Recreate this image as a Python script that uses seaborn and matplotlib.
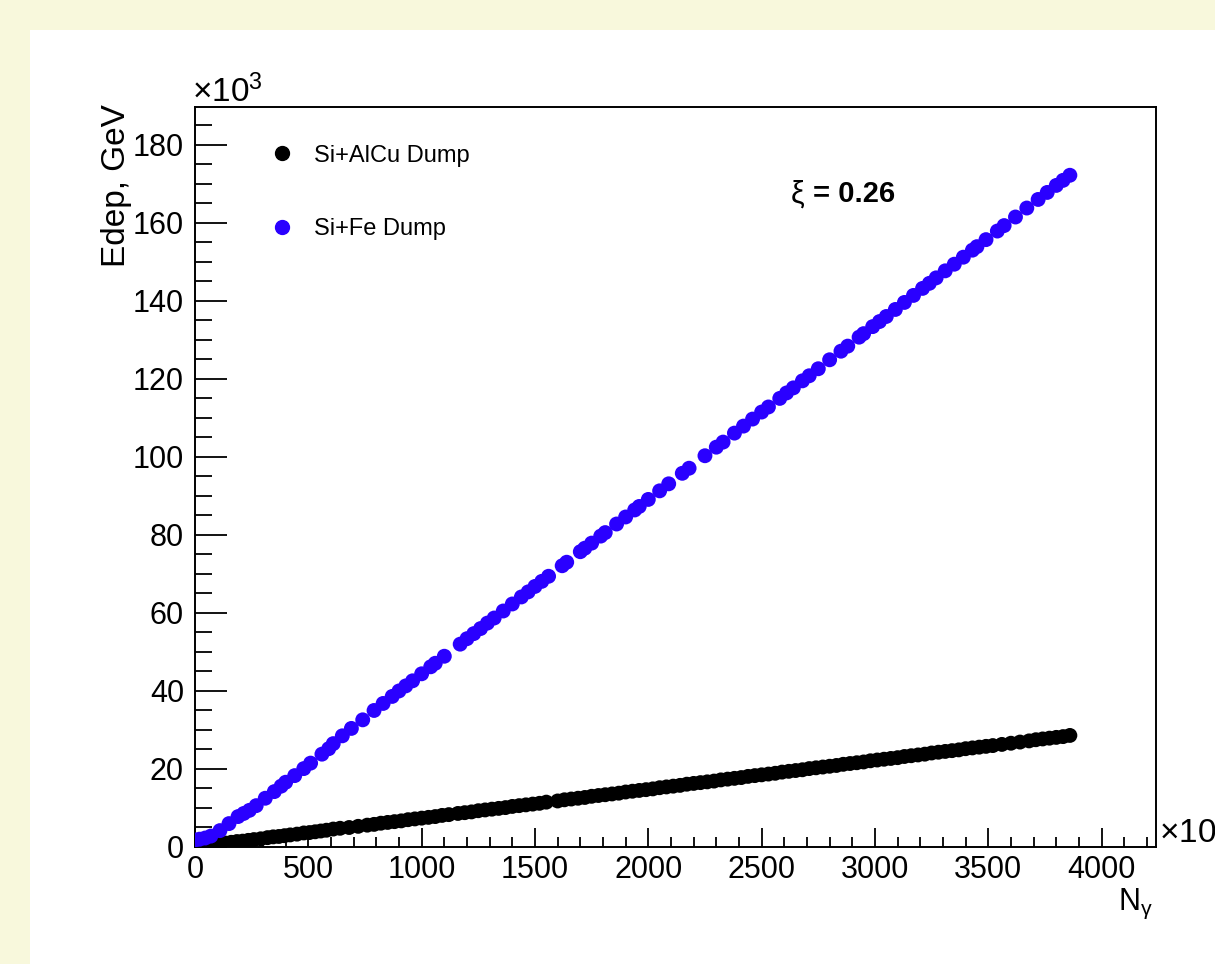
import numpy as np
import pandas as pd
import matplotlib.pyplot as plt
import seaborn as sns
from matplotlib.lines import Line2D
from matplotlib.patches import Rectangle
from matplotlib.ticker import MultipleLocator

# ---------- DATA (N_gamma, Edep in 10^3 GeV) ----------
alcu_n = [0, 15, 30, 50, 70, 90, 110, 135, 160, 185, 210, 235, 260, 290, 320, 345, 370, 395,
          420, 450, 480, 505, 530, 555, 580, 610, 640, 680, 720, 760, 790, 820, 850, 880, 910,
          940, 970, 1000, 1030, 1060, 1090, 1120, 1160, 1190, 1220, 1250, 1280, 1310, 1340,
          1370, 1400, 1430, 1460, 1490, 1520, 1550, 1600, 1630, 1660, 1690, 1720, 1750, 1780,
          1810, 1840, 1870, 1900, 1930, 1960, 1990, 2020, 2050, 2080, 2110, 2140, 2170, 2200,
          2230, 2260, 2290, 2320, 2350, 2380, 2410, 2440, 2470, 2500, 2530, 2560, 2590, 2620,
          2650, 2680, 2710, 2740, 2770, 2800, 2830, 2860, 2890, 2920, 2950, 2980, 3010, 3040,
          3070, 3100, 3130, 3160, 3190, 3220, 3250, 3280, 3310, 3340, 3370, 3400, 3430, 3460,
          3490, 3520, 3560, 3600, 3640, 3680, 3710, 3740, 3770, 3800, 3830, 3860]
alcu_e = [0.0, 0.1, 0.3, 0.4, 0.5, 0.7, 0.8, 1.0, 1.2, 1.4, 1.5, 1.7, 1.9, 2.1, 2.4, 2.6, 2.7, 2.9,
          3.1, 3.3, 3.6, 3.7, 3.9, 4.1, 4.3, 4.6, 4.8, 5.0, 5.3, 5.6, 5.8, 6.1, 6.3, 6.5, 6.7,
          7.0, 7.2, 7.4, 7.6, 7.8, 8.1, 8.3, 8.6, 8.8, 9.0, 9.3, 9.5, 9.7, 9.9,
          10.1, 10.4, 10.6, 10.8, 11.0, 11.2, 11.5, 11.8, 12.1, 12.3, 12.5, 12.7, 13.0, 13.2,
          13.4, 13.6, 13.8, 14.1, 14.3, 14.5, 14.7, 14.9, 15.2, 15.4, 15.6, 15.8, 16.1, 16.3,
          16.5, 16.7, 16.9, 17.2, 17.4, 17.6, 17.8, 18.1, 18.3, 18.5, 18.7, 18.9, 19.2, 19.4,
          19.6, 19.8, 20.1, 20.3, 20.5, 20.7, 20.9, 21.2, 21.4, 21.6, 21.8, 22.1, 22.3, 22.5,
          22.7, 22.9, 23.2, 23.4, 23.6, 23.8, 24.1, 24.3, 24.5, 24.7, 24.9, 25.2, 25.4, 25.6,
          25.8, 26.0, 26.3, 26.6, 26.9, 27.2, 27.5, 27.7, 27.9, 28.1, 28.3, 28.6]

fe_n = [0, 20, 45, 70, 110, 150, 190, 215, 240, 270, 310, 350, 380, 400, 440, 480, 510, 560,
        590, 610, 650, 690, 740, 790, 830, 870, 900, 930, 960, 1000, 1040, 1060, 1100, 1170,
        1200, 1230, 1260, 1290, 1320, 1360, 1400, 1440, 1470, 1500, 1530, 1560, 1620, 1640,
        1700, 1720, 1750, 1790, 1810, 1860, 1900, 1940, 1960, 2000, 2050, 2090, 2150, 2180,
        2250, 2300, 2330, 2380, 2420, 2460, 2500, 2530, 2580, 2610, 2640, 2680, 2710, 2750,
        2800, 2850, 2880, 2930, 2950, 2990, 3020, 3050, 3090, 3130, 3170, 3210, 3240, 3270,
        3310, 3350, 3390, 3430, 3450, 3490, 3540, 3570, 3620, 3670, 3720, 3760, 3800, 3830, 3860]
fe_e = [1.8, 2.0, 2.3, 2.8, 4.2, 6.0, 7.8, 8.6, 9.4, 10.6, 12.5, 14.2, 15.6, 16.6, 18.3, 20.1,
        21.5, 23.8, 25.2, 26.5, 28.5, 30.4, 32.6, 35.0, 36.8, 38.6, 40.0, 41.3, 42.6, 44.4, 46.2,
        47.1, 48.9, 52.0, 53.4, 54.7, 56.0, 57.4, 58.7, 60.5, 62.3, 64.1, 65.4, 66.8, 68.1, 69.4,
        72.1, 73.0, 75.7, 76.6, 77.9, 79.7, 80.6, 82.8, 84.6, 86.4, 87.3, 89.1, 91.3, 93.1, 95.8,
        97.1, 100.3, 102.5, 103.8, 106.1, 107.9, 109.7, 111.5, 112.8, 115.0, 116.4, 117.7, 119.5,
        120.8, 122.6, 124.9, 127.1, 128.4, 130.7, 131.6, 133.4, 134.7, 136.0, 137.8, 139.6, 141.4,
        143.2, 144.5, 145.9, 147.7, 149.4, 151.2, 153.0, 153.9, 155.7, 157.9, 159.3, 161.5, 163.8,
        166.0, 167.8, 169.6, 170.9, 172.2]

labels = ["Si+AlCu Dump", "Si+Fe Dump"]
colors = ["#000000", "#2a00ff"]

df = pd.concat([
    pd.DataFrame({"n": alcu_n, "edep": alcu_e, "setup": labels[0]}),
    pd.DataFrame({"n": fe_n, "edep": fe_e, "setup": labels[1]}),
])

# ---------- PLOT ----------
sns.set_style("ticks")
plt.rcParams["font.family"] = ["Liberation Sans", "DejaVu Sans"]
plt.rcParams["text.color"] = "black"
plt.rcParams["mathtext.fontset"] = "custom"
plt.rcParams["mathtext.rm"] = "Liberation Sans"
plt.rcParams["mathtext.it"] = "Liberation Sans:italic"
plt.rcParams["mathtext.default"] = "regular"

W, H = 1215, 964
fig = plt.figure(figsize=(W / 100, H / 100), dpi=100)
fig.patch.set_facecolor("#f8f8dc")
fig.patches.append(Rectangle((30 / W, 0), 1 - 30 / W, 1 - 30 / H, transform=fig.transFigure,
                             facecolor="white", edgecolor="none", zorder=-5))

ax = fig.add_axes([195 / W, 1 - 847 / H, (1156 - 195) / W, (847 - 107) / H])
ax.set_zorder(2)
ax.set_facecolor("white")

sns.scatterplot(data=df, x="n", y="edep", hue="setup", palette=dict(zip(labels, colors)),
                s=115, linewidth=0, legend=False, ax=ax, zorder=3)

ax.set_xlim(0, 4240)
ax.set_ylim(0, 189.7)
ax.xaxis.set_major_locator(MultipleLocator(500))
ax.xaxis.set_minor_locator(MultipleLocator(100))
ax.yaxis.set_major_locator(MultipleLocator(20))
ax.yaxis.set_minor_locator(MultipleLocator(5))
ax.tick_params(axis="both", which="both", direction="in", top=False, right=False,
               labelsize=22, width=1.3, colors="black")
ax.tick_params(axis="x", which="major", length=14, pad=6)
ax.tick_params(axis="x", which="minor", length=7)
ax.tick_params(axis="y", which="major", length=23, pad=8)
ax.tick_params(axis="y", which="minor", length=12)
for sp in ax.spines.values():
    sp.set_linewidth(1.4)
    sp.set_color("black")

ax.set_xlabel("")
ax.set_ylabel("")
fig.text(1153 / W, 1 - 910 / H, r"N$_{\gamma}$", ha="right", va="baseline", fontsize=22)
fig.text(117 / W, 1 - 104 / H, "Edep, GeV", rotation=90, ha="center", va="top", fontsize=24)
fig.text(192 / W, 1 - 92 / H, r"$\times$10$^{3}$", ha="left", va="center", fontsize=24)
fig.text(1159 / W, 1 - 834 / H, r"$\times$10", ha="left", va="center", fontsize=24)

ax.text(0.619, 0.882, r"$\xi$", transform=ax.transAxes, fontsize=22, ha="left", va="center")
ax.text(0.643, 0.882, "= 0.26", transform=ax.transAxes, fontsize=21, fontweight="bold",
        ha="left", va="center")

handles = [Line2D([], [], marker="o", linestyle="none", color=c, markersize=10) for c in colors]
ax.legend(handles, labels, loc="upper left", bbox_to_anchor=(0.05, 0.978), frameon=False,
          fontsize=17, labelspacing=2.2, handletextpad=0.6, handlelength=1.5)

plt.savefig("out.png", dpi=100, facecolor=fig.get_facecolor())
